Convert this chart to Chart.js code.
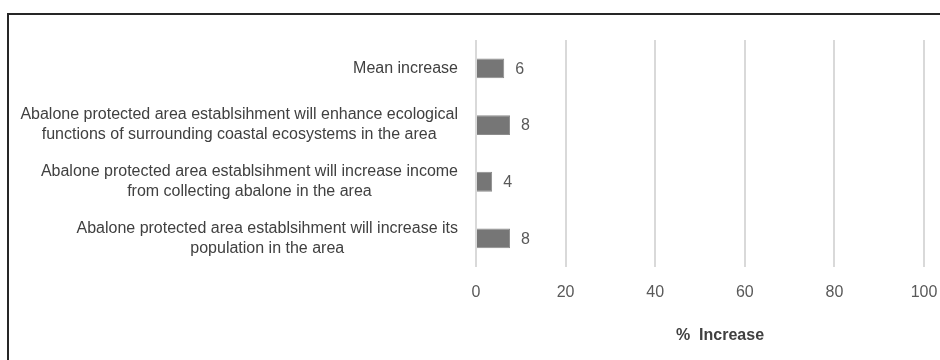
<!DOCTYPE html>
<html>
<head>
<meta charset="utf-8">
<script src="https://cdn.jsdelivr.net/npm/chart.js@4"></script>
<style>
    body { margin: 0; background: #fff; }
    #wrap { position: relative; width: 940px; height: 360px; overflow: hidden; }
    #frame { position: absolute; left: 7px; top: 13px; width: 960px; height: 400px; border-left: 2px solid #262626; border-top: 2px solid #262626; }
    canvas { position: absolute; left: 0; top: 0; }
</style>
</head>
<body>
<div id="wrap">
    <div id="frame"></div>
    <canvas id="chart" width="940" height="360"></canvas>
</div>
<script>
// Chart data
const categories = [
    ['Mean increase'],
    ['Abalone protected area establsihment will enhance ecological', 'functions of surrounding coastal ecosystems in the area'],
    ['Abalone protected area establsihment will increase income', 'from collecting abalone in the area'],
    ['Abalone protected area establsihment will increase its', 'population in the area']
];
const increaseValues = [6.3, 7.6, 3.6, 7.6];
const valueLabels = ['6', '8', '4', '8'];
const xTickValues = [0, 20, 40, 60, 80, 100];
const xTitle = '%  Increase';

const FONT = "'Liberation Sans', Arial, sans-serif";
const TEXT_COLOR = '#595959';
const LABEL_COLOR = '#404040';

// Draws category labels (lines centred inside a right-aligned block), value labels and axis title
const labelPlugin = {
    id: 'labelPlugin',
    afterDraw(chart) {
        const ctx = chart.ctx;
        const yScale = chart.scales.y;
        const xScale = chart.scales.x;
        ctx.save();
        ctx.fillStyle = LABEL_COLOR;
        ctx.font = '16px ' + FONT;
        ctx.textBaseline = 'middle';
        ctx.textAlign = 'center';

        categories.forEach((lines, i) => {
            const yc = yScale.getPixelForValue(i);
            const widest = Math.max(...lines.map(l => ctx.measureText(l).width));
            const cx = chart.chartArea.left - 18 - widest / 2;
            const lineH = 20;
            const top = yc - (lines.length - 1) * lineH / 2;
            lines.forEach((l, j) => ctx.fillText(l, cx, top + j * lineH));
        });

        // value labels
        ctx.fillStyle = TEXT_COLOR;
        ctx.textAlign = 'left';
        chart.getDatasetMeta(0).data.forEach((bar, i) => {
            ctx.fillText(valueLabels[i], bar.x + 11, bar.y + 1);
        });

        // axis title
        ctx.fillStyle = LABEL_COLOR;
        ctx.font = 'bold 16px ' + FONT;
        ctx.textAlign = 'center';
        ctx.fillText(xTitle, (xScale.left + xScale.right) / 2 + 20, 336);
        ctx.restore();
    }
};

const ctx = document.getElementById('chart').getContext('2d');
new Chart(ctx, {
    type: 'bar',
    data: {
        labels: categories,
        datasets: [{
            data: increaseValues,
            backgroundColor: '#767676',
            borderColor: '#8c8c8c',
            borderWidth: 1,
            barPercentage: 0.35,
            categoryPercentage: 1
        }]
    },
    options: {
        indexAxis: 'y',
        responsive: false,
        animation: false,
        layout: {
            padding: { left: 476, right: 16, top: 40, bottom: 42 }
        },
        plugins: {
            legend: { display: false },
            tooltip: { enabled: false }
        },
        scales: {
            x: {
                min: xTickValues[0],
                max: xTickValues[xTickValues.length - 1],
                afterBuildTicks: (scale) => {
                    scale.ticks = xTickValues.map(v => ({ value: v }));
                },
                afterFit: (scale) => {
                    scale.paddingLeft = 0;
                    scale.paddingRight = 0;
                },
                grid: { color: '#d9d9d9', lineWidth: 2, drawTicks: false },
                border: { display: false },
                ticks: {
                    color: TEXT_COLOR,
                    font: { family: FONT, size: 16 },
                    padding: 16,
                    maxRotation: 0
                }
            },
            y: {
                display: false,
                grid: { display: false }
            }
        }
    },
    plugins: [labelPlugin]
});
</script>
</body>
</html>
